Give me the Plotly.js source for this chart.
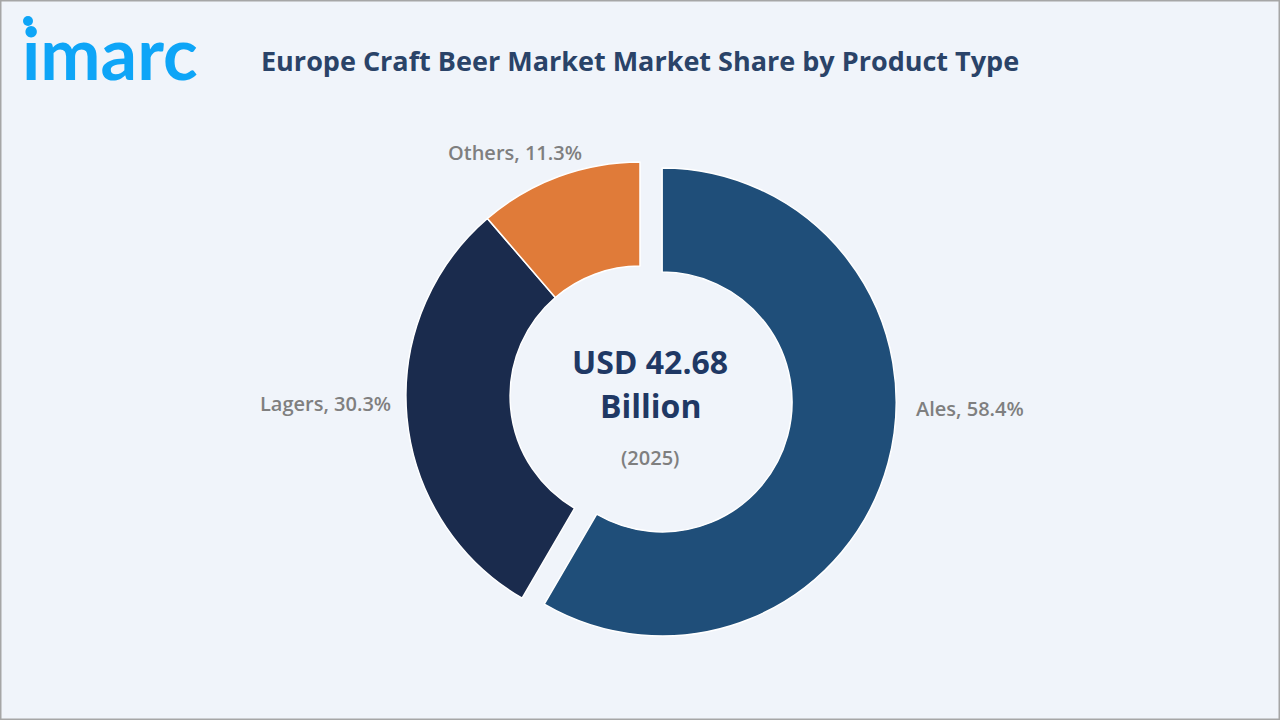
<!DOCTYPE html>
<html><head><meta charset="utf-8">
<script src="https://cdn.plot.ly/plotly-3.0.1.min.js"></script>
<style>html,body{margin:0;padding:0;background:#f0f4fa}#c{width:1280px;height:720px}</style>
</head><body><div id="c"></div>
<script>
const categories = ["Ales", "Lagers", "Others"];
const shares = [58.4, 30.3, 11.3];
const sliceColors = ["#1f4e79", "#1a2b4d", "#e07b39"];
const pulls = [0.098, 0, 0];
const chartTitle = "Europe Craft Beer Market Market Share by Product Type";
const centerLines = ["USD 42.68", "Billion", "(2025)"];
const logoText = "imarc";
const labelPos = [[970, 408], [325, 403], [515, 152]];
const bg = "#f0f4fa";
const font = "'Open Sans', sans-serif";
const px = v => v / 1280, py = v => 1 - v / 720;

const trace = {
  type: "pie", labels: categories, values: shares, sort: false, direction: "clockwise", rotation: 0,
  hole: 0.555, pull: pulls, textinfo: "none", hoverinfo: "label+percent",
  marker: {colors: sliceColors, line: {color: "#ffffff", width: 1.5}},
  domain: {x: [0.25, 0.75], y: [py(396) - 257 / 720, py(396) + 257 / 720]}, showlegend: false
};
const ann = (x, y, text, size, color, weight, extra) => Object.assign({
  xref: "paper", yref: "paper", x: px(x), y: py(y), xanchor: "center", yanchor: "middle", showarrow: false,
  text, font: {family: font, size, color, weight}
}, extra || {});
const annotations = [
  ann(640, 60, chartTitle, 27, "#2a4368", 700),
  ann(650, 361, centerLines[0], 32, "#1f3864", 700),
  ann(650, 405, centerLines[1], 32, "#1f3864", 700),
  ann(650, 457, centerLines[2], 20, "#7f7f7f", 600),
  ann(110, 52, logoText, 72, "#0ea5f7", 700, {font: {family: "Lato, sans-serif", size: 72, color: "#0ea5f7", weight: 700}})
];
categories.forEach((c, i) => annotations.push(
  ann(labelPos[i][0], labelPos[i][1], c + ", " + shares[i].toFixed(1) + "%", 20, "#7f7f7f", 600)));
const layout = {
  width: 1280, height: 720, margin: {l: 0, r: 0, t: 0, b: 0}, paper_bgcolor: bg, showlegend: false, annotations,
  shapes: [
    {type: "rect", xref: "paper", yref: "paper", x0: 0, x1: 1, y0: 0, y1: 1, line: {color: "#a6a6a6", width: 3}, layer: "above"},
    {type: "circle", xref: "paper", yref: "paper", x0: px(23), x1: px(33), y0: py(26), y1: py(16), fillcolor: "#0ea5f7", line: {width: 0}}
  ]
};
Plotly.newPlot("c", [trace], layout, {displayModeBar: false, staticPlot: true});
</script></body></html>
